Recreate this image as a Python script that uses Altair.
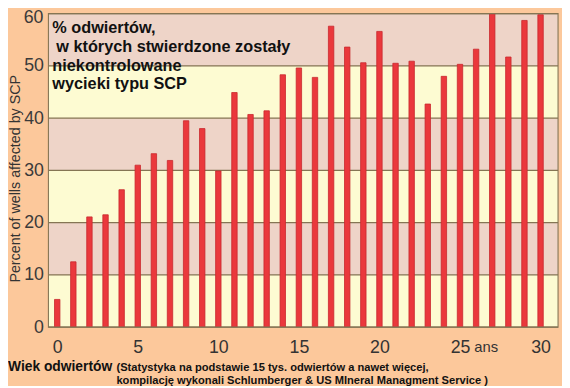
import altair as alt
import pandas as pd

ages = list(range(0, 31))
pct = [5.3, 12.5, 21.1, 21.5, 26.3, 31.0, 33.2, 31.9, 39.5, 38.0,
       29.9, 44.9, 40.7, 41.4, 48.3, 49.6, 47.8, 57.6, 53.6, 50.6,
       56.6, 50.5, 50.9, 42.7, 48.0, 50.3, 53.2, 60.0, 51.7, 58.7, 59.8]

band_lo = [0, 10, 20, 30, 40, 50]
band_hi = [10, 20, 30, 40, 50, 60]
band_kind = ["y", "p", "y", "p", "y", "p"]

x_ticks = [0, 5, 10, 15, 20, 25, 30]
y_ticks = [0, 10, 20, 30, 40, 50, 60]

title_line1 = "% odwiertów,"
title_line2 = "w których stwierdzone zostały"
title_line34 = ["niekontrolowane", "wycieki typu SCP"]
y_title = "Percent of wells affected by SCP"
x_label = "Wiek odwiertów"
note_lines = ["(Statystyka na podstawie 15 tys. odwiertów a nawet więcej,",
              "kompilację wykonali Schlumberger & US MIneral Managment Service )"]
unit = "ans"

PEACH = "#fcc89b"
YELLOW = "#fdfbd2"
PINK = "#eed4c8"
GRID = "#857554"
RED = "#ea383c"
NARROW = "Liberation Sans Narrow, Liberation Sans"

df = pd.DataFrame({"age": ages, "pct": pct})
bands = pd.DataFrame({"lo": band_lo, "hi": band_hi, "kind": band_kind})
top_tick = pd.DataFrame({"v": [y_ticks[-1]], "t": [str(y_ticks[-1])]})
one = pd.DataFrame({"a": [0]})

xs = alt.Scale(domain=[-0.24, 30.78], nice=False, zero=False)
ys = alt.Scale(domain=[0, 60], nice=False)

W, H = 517, 318

band_layer = alt.Chart(bands).mark_rect().encode(
    x=alt.value(0), x2=alt.value(W),
    y=alt.Y("lo:Q", scale=ys), y2="hi:Q",
    color=alt.Color("kind:N", scale=alt.Scale(domain=["y", "p"], range=[YELLOW, PINK]), legend=None),
)

grid = alt.Chart(pd.DataFrame({"v": y_ticks})).mark_rule(color=GRID, strokeWidth=1.1).encode(
    y=alt.Y("v:Q", scale=ys, axis=alt.Axis(values=y_ticks, title=y_title, grid=False, ticks=False,
                                          domain=False, labelFontSize=18, labelColor="#3a3a3a",
                                          labelFont=NARROW, labelPadding=5,
                                          labelExpr="datum.value == 60 ? '' : datum.label",
                                          titleFontSize=14.5, titleFont=NARROW,
                                          titleFontWeight="normal", titleColor="#333333",
                                          titleX=-33, titleY=167, titleAlign="center",
                                          titleBaseline="middle")),
    x=alt.value(0), x2=alt.value(W),
)

top_label = alt.Chart(top_tick).mark_text(
    align="right", baseline="top", font=NARROW, fontSize=18, color="#3a3a3a", dy=-5,
).encode(x=alt.value(-5), y=alt.Y("v:Q", scale=ys), text="t:N")

bars = alt.Chart(df).mark_bar(size=5.5, color=RED, stroke="#c8282c", strokeWidth=0.8, clip=True).encode(
    x=alt.X("age:Q", scale=xs, axis=alt.Axis(values=x_ticks, title=None, grid=False, ticks=False,
                                            domain=False, labelFontSize=18, labelColor="#333333",
                                            labelFont=NARROW, labelPadding=12)),
    y=alt.Y("pct:Q", scale=ys),
)

frame = alt.Chart(one).mark_rect(fill=None, stroke=GRID, strokeWidth=1.1).encode(
    x=alt.value(0), x2=alt.value(W), y=alt.value(0), y2=alt.value(H),
)

tstyle = dict(align="left", baseline="top", font="Liberation Sans", fontWeight="bold",
              fontSize=16.5, lineHeight=18.8, color="#111111")
t1 = alt.Chart(one).mark_text(text=title_line1, **tstyle).encode(x=alt.value(4), y=alt.value(7))
t2 = alt.Chart(one).mark_text(text=title_line2, **tstyle).encode(x=alt.value(8), y=alt.value(26))
t3 = alt.Chart(one).mark_text(text=title_line34, **tstyle).encode(x=alt.value(4), y=alt.value(45))

unit_txt = alt.Chart(one).mark_text(
    text=unit, align="left", baseline="middle", font=NARROW,
    fontSize=15, color="#333333",
).encode(x=alt.value(432), y=alt.value(H + 20))

xlab_txt = alt.Chart(one).mark_text(
    text=x_label, align="left", baseline="alphabetic", font="Liberation Sans", fontWeight="bold",
    fontSize=14, color="#111111",
).encode(x=alt.value(-41), y=alt.value(H + 45))

note_txt = alt.Chart(one).mark_text(
    text=note_lines, align="left", baseline="alphabetic", font="Liberation Sans", fontWeight="bold",
    fontSize=11.3, lineHeight=12.5, color="#111111",
).encode(x=alt.value(69), y=alt.value(H + 45))

chart = alt.layer(band_layer, grid, bars, frame, top_label, t1, t2, t3,
                  unit_txt, xlab_txt, note_txt).properties(
    width=W, height=H,
    autosize=alt.AutoSizeParams(type="none"),
    padding={"left": 41, "top": 3, "right": 4, "bottom": 57},
    background=PEACH,
).configure_view(stroke=None)

chart.save("out.html", embed_options={"renderer": "svg", "actions": False})
